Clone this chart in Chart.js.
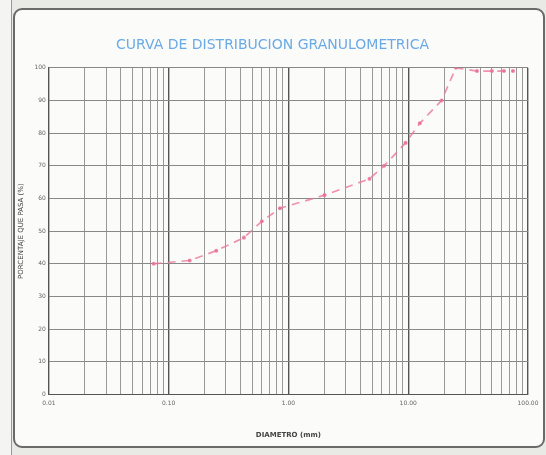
<!DOCTYPE html>
<html lang="es">
<head>
    <meta charset="UTF-8">
    <title>Curva de distribución granulométrica</title>
    <script src="https://cdn.jsdelivr.net/npm/chart.js"></script>
    <style>
        html, body { margin: 0; padding: 0; background: #e9e9e6; }
        .hoja {
            position: absolute; left: 0; top: 0; width: 11px; height: 455px;
            background: #f4f4f2; border-right: 1px solid #999;
        }
        .marco {
            position: absolute; left: 13px; top: 8px; width: 528px; height: 436px;
            border: 2px solid #6a6a6a; border-radius: 9px; background: #fbfbfa;
        }
        #grafico { position: absolute; left: 0; top: 0; }
    </style>
</head>
<body>
    <div class="hoja"></div>
    <div class="marco"></div>
    <canvas id="grafico" width="546" height="455"></canvas>

    <script>
        // Datos (diámetro en mm, % que pasa)
        const diametros = [0.075, 0.15, 0.25, 0.425, 0.6, 0.85, 2.0, 4.75, 6.3, 9.5, 12.5, 19.0, 25.0, 37.5, 50.0, 63.0, 75.0];
        const porcentajes = [40, 41, 44, 48, 53, 57, 61, 66, 70, 77, 83, 90, 100, 99, 99, 99, 99];

        const ticksY = [0, 10, 20, 30, 40, 50, 60, 70, 80, 90, 100];
        const decadas = [0.01, 0.1, 1, 10, 100];

        const puntos = diametros.map((d, i) => ({ x: d, y: porcentajes[i] }));

        function esDecada(v) {
            return decadas.some(d => Math.abs(v - d) < d * 1e-6);
        }

        const ctx = document.getElementById('grafico').getContext('2d');
        new Chart(ctx, {
            type: 'line',
            data: {
                datasets: [{
                    label: '% que pasa',
                    data: puntos,
                    borderColor: 'rgba(236, 120, 152, 0.8)',
                    backgroundColor: 'rgba(220, 100, 135, 0.9)',
                    borderWidth: 1.7,
                    borderDash: [8, 6],
                    pointRadius: 1.2,
                    pointHoverRadius: 1.2,
                    tension: 0
                }]
            },
            options: {
                responsive: false,
                animation: false,
                layout: { padding: { left: 17, right: 18, top: 37, bottom: 16 } },
                plugins: {
                    legend: { display: false },
                    tooltip: { enabled: false },
                    title: {
                        display: true,
                        text: 'CURVA DE DISTRIBUCION GRANULOMETRICA',
                        color: '#6aaae6',
                        font: { family: 'DejaVu Sans', size: 14, weight: 'normal' },
                        padding: { top: 0, bottom: 14 }
                    }
                },
                scales: {
                    x: {
                        type: 'logarithmic',
                        min: 0.01,
                        max: 100,
                        afterBuildTicks: (scale) => {
                            const t = [];
                            for (let i = 0; i < decadas.length - 1; i++) {
                                for (let m = 1; m <= 9; m++) t.push({ value: decadas[i] * m });
                            }
                            t.push({ value: 100 });
                            scale.ticks = t;
                        },
                        ticks: {
                            autoSkip: false,
                            maxRotation: 0,
                            padding: 5,
                            color: '#666',
                            font: { family: 'DejaVu Sans', size: 6 },
                            callback: (v) => esDecada(v) ? Number(v).toFixed(2) : ''
                        },
                        grid: {
                            drawTicks: false,
                            color: (c) => esDecada(c.tick.value) ? '#555' : '#999',
                            lineWidth: (c) => esDecada(c.tick.value) ? 1.4 : 1
                        },
                        border: { color: '#555' },
                        title: {
                            display: true,
                            text: 'DIAMETRO (mm)',
                            color: '#444',
                            font: { family: 'DejaVu Sans', size: 7, weight: 'bold' },
                            padding: { top: 19, bottom: 0 }
                        }
                    },
                    y: {
                        min: 0,
                        max: 100,
                        afterBuildTicks: (scale) => {
                            scale.ticks = ticksY.map(v => ({ value: v }));
                        },
                        ticks: {
                            padding: 3,
                            color: '#666',
                            font: { family: 'DejaVu Sans', size: 6 }
                        },
                        grid: { drawTicks: false, color: '#888' },
                        border: { color: '#555' },
                        title: {
                            display: true,
                            text: 'PORCENTAJE QUE PASA (%)',
                            color: '#444',
                            font: { family: 'DejaVu Sans', size: 7 },
                            padding: { top: 0, bottom: 6 }
                        }
                    }
                }
            }
        });
    </script>
</body>
</html>
